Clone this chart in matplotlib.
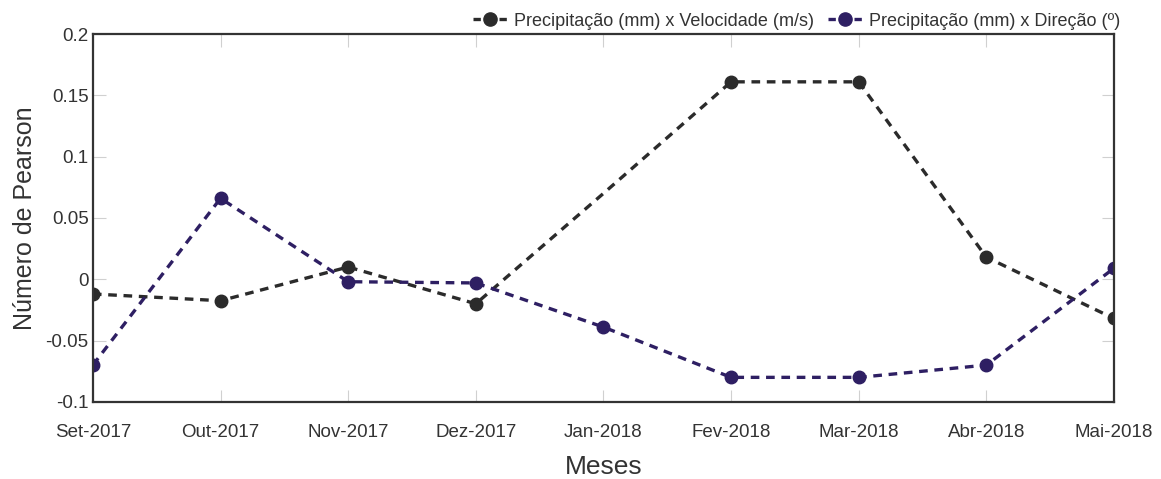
import numpy as np
import matplotlib
matplotlib.use('Agg')
import matplotlib.pyplot as plt
from matplotlib.lines import Line2D

plt.rcParams['font.family'] = ['Liberation Sans', 'DejaVu Sans']

meses = ['Set-2017', 'Out-2017', 'Nov-2017', 'Dez-2017', 'Jan-2018',
         'Fev-2018', 'Mar-2018', 'Abr-2018', 'Mai-2018']
velocidade = [-0.012, -0.0175, 0.010, -0.020, 0.070, 0.161, 0.161, 0.018, -0.032]
direcao = [-0.070, 0.066, -0.002, -0.003, -0.039, -0.080, -0.080, -0.070, 0.009]
rotulos = ['Precipitação (mm) x Velocidade (m/s)', 'Precipitação (mm) x Direção (º)']

cor_vel = '#2b2b2b'
cor_dir = '#2e1f63'
txt = '#333333'

x = np.arange(len(meses))

fig = plt.figure(figsize=(11.61, 4.79), dpi=100)
ax = fig.add_axes([0.080, 0.161, 0.8795, 0.768])

ax.plot(x, velocidade, color=cor_vel, linestyle=(0, (2.6, 2.0)), linewidth=2.4,
        marker='o', markersize=9, markevery=[0, 1, 2, 3, 5, 6, 7, 8])
ax.plot(x, direcao, color=cor_dir, linestyle=(0, (2.6, 2.0)), linewidth=2.4,
        marker='o', markersize=9)

ax.set_xlim(0, len(meses) - 1)
ax.set_ylim(-0.1, 0.2)
ax.set_xticks(x)
ax.set_xticklabels(meses)
ax.set_yticks([-0.1, -0.05, 0, 0.05, 0.1, 0.15, 0.2])
ax.set_yticklabels(['-0.1', '-0.05', '0', '0.05', '0.1', '0.15', '0.2'])

ax.tick_params(direction='in', length=9, width=0.8, color='#d0d0d0',
               labelsize=13.5, labelcolor=txt, top=True, right=True)
ax.tick_params(axis='x', pad=16)
ax.tick_params(axis='y', pad=3)
for s in ax.spines.values():
    s.set_color('#333333')
    s.set_linewidth(1.6)

ax.set_xlabel('Meses', fontsize=19, color=txt, labelpad=10)
ax.set_ylabel('Número de Pearson', fontsize=18, color=txt, labelpad=6)

# legend handles: dash - marker - dash
handles = [Line2D([], [], color=c, linestyle=(0, (2.2, 5.6)), linewidth=2.4,
                  marker='o', markersize=9.5) for c in (cor_vel, cor_dir)]
ax.legend(handles, rotulos, loc='lower right', bbox_to_anchor=(1.006, 1.012), ncol=2,
          frameon=False, fontsize=13, labelcolor=txt, handlelength=1.85,
          handletextpad=0.4, columnspacing=0.8, borderaxespad=0, borderpad=0)

fig.savefig('out.png', dpi=100)
